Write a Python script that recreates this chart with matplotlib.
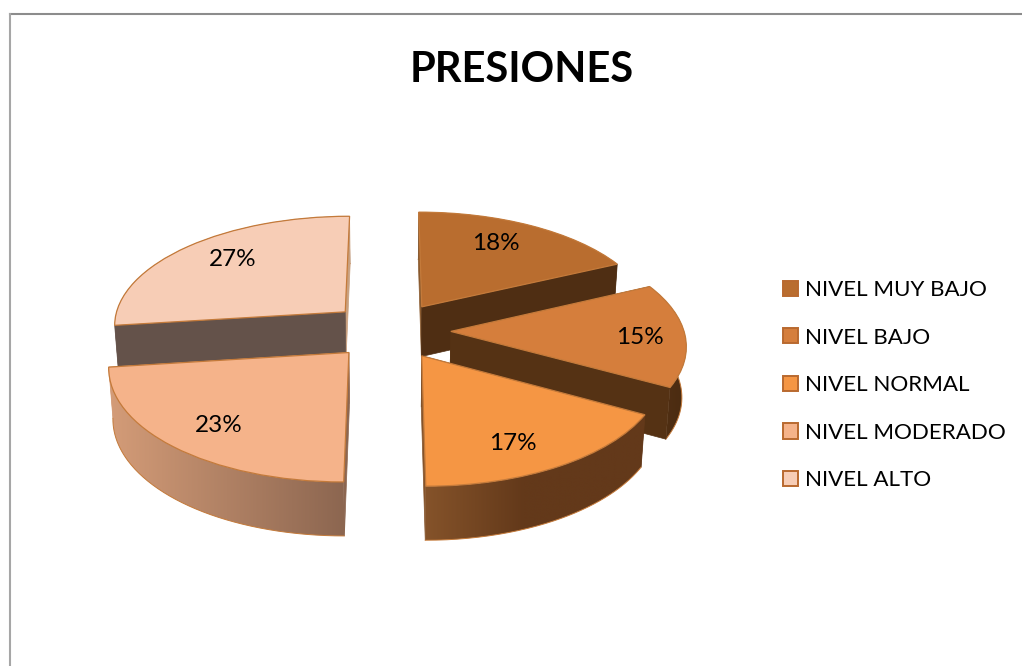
import numpy as np
import matplotlib
matplotlib.use("Agg")
import matplotlib.pyplot as plt
from matplotlib.patches import Polygon, Patch
from matplotlib.lines import Line2D
from matplotlib.transforms import Transform
from matplotlib.colors import LinearSegmentedColormap

plt.rcParams['font.family'] = ['Lato', 'DejaVu Sans']

# ---- data ----
categories = ["NIVEL MUY BAJO", "NIVEL BAJO", "NIVEL NORMAL", "NIVEL MODERADO", "NIVEL ALTO"]
values = [18, 15, 17, 23, 27]
title = "PRESIONES"

# ---- style ----
top_colors = ["#B96D2F", "#D57E3C", "#F59644", "#F5B38A", "#F7CDB6"]
edge_color = "#C47A3A"
swatch_edge = "#B9692F"
face_hi_colors = ["#8A5A2E", "#553214", "#63391A", "#8C6650", "#64524A"]  # face at theta2
face_lo_colors = ["#4F2E13", "#553214", "#85532A", "#D49C78", "#C9A07F"]  # face at theta1
rim_stops = [
    [(0, "#4F2E13"), (1, "#4F2E13")],
    [(0, "#553214"), (1, "#4A2B11")],
    [(0, "#85532A"), (0.45, "#63391A"), (1, "#63391A")],
    [(0, "#D49C78"), (1, "#8C6650")],
    [(0, "#64524A"), (1, "#64524A")],
]
draw_order = [4, 0, 1, 3, 2]
label_xy = [(496, 244), (640, 338), (513, 443), (219, 426), (233, 260)]

# ---- projection of the tilted pie ----
CX, CY, A, B, K = 390.0, 330.5, 233.0, 110.0, 0.11
EXPLODE = 0.261
DEPTH = 50.3
BOTTOM_SHRINK = 0.985


def project(xy):
    xy = np.asarray(xy, float)
    d = 1 + K * xy[..., 1]
    return np.stack([CX + A * xy[..., 0] / d, CY - B * xy[..., 1] / d], axis=-1)


def project_bottom(xy):
    xy = np.asarray(xy, float)
    d = 1 + K * xy[..., 1]
    p = project(xy)
    return np.stack([CX + (p[..., 0] - CX) * BOTTOM_SHRINK, p[..., 1] + DEPTH / np.sqrt(d)], axis=-1)


class Persp(Transform):
    input_dims = 2
    output_dims = 2
    is_separable = False
    has_inverse = False

    def transform_non_affine(self, values):
        return project(values)


fig = plt.figure(figsize=(10.22, 6.66), dpi=100, facecolor="white")
ax = fig.add_axes([0, 0, 1, 1])

wedges, _, autotexts = ax.pie(values, explode=[EXPLODE] * len(values), startangle=90,
                              counterclock=False, colors=top_colors, autopct="%1.0f%%",
                              wedgeprops=dict(edgecolor=edge_color, linewidth=0.9))
ax.set_aspect("auto")
ax.set_xlim(0, 1022)
ax.set_ylim(666, 0)
ax.set_autoscale_on(False)
ax.axis("off")

persp = Persp() + ax.transData

for rank, i in enumerate(draw_order):
    w = wedges[i]
    base = 10 + 10 * rank
    c = np.array(w.center)
    th = np.radians(np.linspace(w.theta1, w.theta2, 160))
    arc = c + w.r * np.column_stack([np.cos(th), np.sin(th)])
    top = project(arc)
    bot = project_bottom(arc)

    items = []
    for end, col in ((arc[-1], face_hi_colors[i]), (arc[0], face_lo_colors[i])):
        pts = np.array([c, end])
        poly = np.vstack([project(pts), project_bottom(pts)[::-1]])
        items.append(((c[1] + end[1]) / 2, poly, col))
    rim_y = arc[:, 1].mean()
    seq = sorted(items + [(rim_y, None, None)], key=lambda t: -t[0])
    for j, (_, poly, col) in enumerate(seq):
        z = base + j + 1
        if poly is None:
            outline = np.vstack([top, bot[::-1]])
            xmin, xmax = outline[:, 0].min(), outline[:, 0].max()
            ymin, ymax = outline[:, 1].min(), outline[:, 1].max()
            cmap = LinearSegmentedColormap.from_list("rim", rim_stops[i])
            im = ax.imshow(np.linspace(0, 1, 256)[None, :], cmap=cmap, aspect="auto",
                           extent=[xmin, xmax, ymax, ymin], zorder=z, interpolation="bilinear")
            clip = Polygon(outline, closed=True, transform=ax.transData)
            im.set_clip_path(clip)
            ax.plot(bot[:, 0], bot[:, 1], color=edge_color, lw=0.7, zorder=z)
        else:
            ax.add_patch(Polygon(poly, closed=True, facecolor=col, edgecolor=col,
                                 linewidth=0.5, zorder=z))
    w.set_transform(persp)
    w.set_zorder(base + 6)
    w.set_clip_on(False)

ax.set_xlim(0, 1022)
ax.set_ylim(666, 0)

for t, xy in zip(autotexts, label_xy):
    t.set_position(xy)
    t.set_transform(ax.transData)
    t.set_fontsize(17.5)
    t.set_color("black")
    t.set_ha("center")
    t.set_va("center")
    t.set_zorder(100)

ax.text(522, 70, title, fontsize=30, fontweight="bold", ha="center", va="center", color="black")

handles = [Patch(facecolor=c, edgecolor=swatch_edge, linewidth=1.4) for c in top_colors]
ax.legend(handles, categories, loc="upper left", bbox_to_anchor=(783 / 1022, 1 - 280 / 666),
          frameon=False, borderpad=0, borderaxespad=0, fontsize=16.15, handlelength=0.67,
          handleheight=0.67, handletextpad=0.31, labelspacing=1.23, labelcolor="black")

# chart-area border, cut off by the crop at right and bottom
fig.add_artist(Line2D([10 / 1022, 1], [1 - 14 / 666] * 2, color="#8C8C8C", lw=1.5))
fig.add_artist(Line2D([10 / 1022] * 2, [1 - 14 / 666, 0], color="#A6A6A6", lw=1.5))

fig.savefig("out.png", dpi=100, facecolor="white")
